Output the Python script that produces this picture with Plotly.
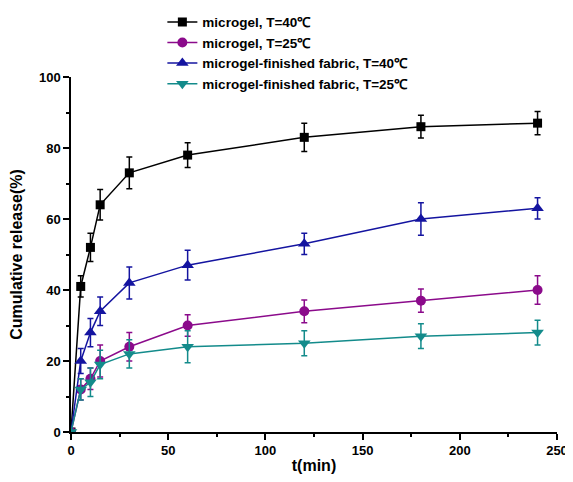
import plotly.graph_objects as go

t = [0, 5, 10, 15, 30, 60, 120, 180, 240]

names = ["microgel, T=40℃", "microgel, T=25℃",
         "microgel-finished fabric, T=40℃", "microgel-finished fabric, T=25℃"]
gel40 = [0, 41, 52, 64, 73, 78, 83, 86, 87]
gel40_err = [0, 3, 4, 4.3, 4.5, 3.5, 4, 3.2, 3.3]
gel25 = [0, 12, 15, 20, 24, 30, 34, 37, 40]
gel25_err = [0, 3, 3, 4.5, 4, 3, 3.2, 3.3, 4]
fab40 = [0, 20, 28, 34, 42, 47, 53, 60, 63]
fab40_err = [0, 3.5, 4, 4, 4.5, 4.2, 3, 4.6, 3]
fab25 = [0, 12, 14, 19, 22, 24, 25, 27, 28]
fab25_err = [0, 3, 4, 4, 4, 4.5, 3.5, 3.5, 3.5]

series = [gel40, gel25, fab40, fab25]
errs = [gel40_err, gel25_err, fab40_err, fab25_err]
colors = ["#000000", "#8B0A8B", "#1414A0", "#138B8B"]
symbols = ["square", "circle", "triangle-up", "triangle-down"]
sizes = [9, 10, 11, 11]

fig = go.Figure()
for nm, y, e, c, s, sz in zip(names, series, errs, colors, symbols, sizes):
    fig.add_trace(go.Scatter(
        x=t, y=y, name=nm, mode="lines+markers",
        line=dict(color=c, width=1.5),
        marker=dict(symbol=s, size=sz, color=c),
        error_y=dict(type="data", array=e, visible=True, color=c, thickness=1.5, width=3),
    ))

font_family = "Liberation Sans, Arial, sans-serif"
fig.update_layout(
    width=565, height=466,
    margin=dict(l=63, r=16, t=69, b=42, autoexpand=False),
    plot_bgcolor="white", paper_bgcolor="white",
    font=dict(family=font_family, color="black"),
    showlegend=True,
    legend=dict(x=0.188, y=1.198, xanchor="left", yanchor="top",
                font=dict(size=13.5, family=font_family, weight="bold"),
                bgcolor="rgba(0,0,0,0)", tracegroupgap=0, itemwidth=30),
    xaxis=dict(range=[0, 250], tickvals=[0, 50, 100, 150, 200, 250],
               automargin=False, ticklabeloverflow="allow",
               showline=True, linecolor="black", linewidth=1.5,
               ticks="outside", ticklen=6, tickwidth=1.5, tickcolor="black",
               minor=dict(ticks="outside", dtick=25, ticklen=3, tickwidth=1.5, tickcolor="black"),
               showgrid=False, zeroline=False,
               tickfont=dict(size=13, weight="bold"),
               title=dict(text="<b>t(min)</b>", font=dict(size=16), standoff=4)),
    yaxis=dict(range=[0, 100], tickvals=[0, 20, 40, 60, 80, 100],
               automargin=False,
               showline=True, linecolor="black", linewidth=1.5,
               ticks="outside", ticklen=6, tickwidth=1.5, tickcolor="black",
               minor=dict(ticks="outside", dtick=10, ticklen=3, tickwidth=1.5, tickcolor="black"),
               showgrid=False, zeroline=False,
               tickfont=dict(size=13, weight="bold"),
               title=dict(text="<b>Cumulative release(%)</b>", font=dict(size=16), standoff=14)),
)

fig.write_html("out.html")
